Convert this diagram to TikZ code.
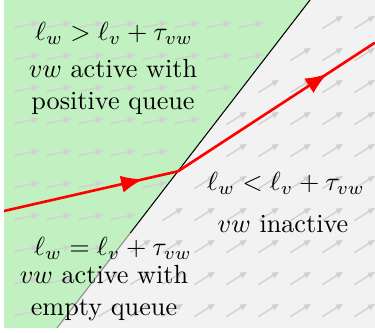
\documentclass[tikz,border=0pt]{standalone}
\usepackage{amsmath, amssymb}
\usetikzlibrary{arrows.meta, decorations.markings}
\definecolor{activegreen}{RGB}{193,240,193}
\definecolor{inactivegray}{RGB}{242,242,242}
\definecolor{fieldgray}{RGB}{208,208,208}

\begin{document}
\begin{tikzpicture}[
  x=0.3817pt, y=-0.3817pt,
  fieldarr/.style={-{Latex[length=2.9pt, width=2.6pt]}, fieldgray, line width=0.5pt},
  flow/.style={red, line width=1pt, postaction={decorate},
               decoration={markings, mark=at position #1 with
                 {\arrow{Latex[length=8.4pt, width=6.6pt]}}}},
  lbl/.style={font=\normalsize, align=center, inner sep=0pt},
]
  % frame and boundary points
  \coordinate (nw) at (4,0);
  \coordinate (se) at (375,328);
  \coordinate (sw) at (4,328);
  \coordinate (top) at (310,0);
  \coordinate (bot) at (57,328);
  \coordinate (kink) at (178,171.3);
  \coordinate (fade) at (130.3,233);
  \useasboundingbox (0,0) rectangle (375,332);

  % regions
  \fill[inactivegray] (nw) rectangle (se);
  \fill[activegreen] (nw) -- (top) -- (bot) -- (sw) -- cycle;

  \begin{scope}
    \clip (nw) rectangle (se);
    % field in the active region
    \foreach \i in {0,...,8} {
      \foreach \j in {0,...,9} {
        \pgfmathsetmacro{\cx}{27+32*\i}
        \pgfmathsetmacro{\cy}{25+32*\j}
        \pgfmathtruncatemacro{\ok}{(\cx+12.5) < (310-0.7713*(\cy-2.5)) ? 1 : 0}
        \ifnum\ok=1
          \draw[fieldarr] (\cx-12.5,\cy+2.5) -- (\cx+12.5,\cy-2.5);
        \fi
      }
    }
    % field in the inactive region
    \foreach \i in {1,...,11} {
      \foreach \j in {0,...,9} {
        \pgfmathsetmacro{\cx}{13+32*\i}
        \pgfmathsetmacro{\cy}{22+32*\j}
        \pgfmathtruncatemacro{\ok}{(\cx-10.5) > (316-0.7713*(\cy+6.5)) ? 1 : 0}
        \ifnum\ok=1
          \draw[fieldarr] (\cx-10.5,\cy+6.5) -- (\cx+10.5,\cy-6.5);
        \fi
      }
    }

    % boundary
    \draw[black, line width=0.4pt] (top) -- (fade);
    \draw[black!45, line width=0.4pt] (fade) -- (bot);

    % trajectory
    \coordinate (in) at (4,211);
    \coordinate (out) at (375,42.6);
    \draw[flow=0.8] (in) -- (kink);
    \draw[flow=0.76] (kink) -- (out);
  \end{scope}

  % labels
  \node[lbl] (posqcond) at (114,33) {$\ell_w > \ell_v + \tau_{vw}$};
  \node[lbl] (posqtext) at (113,87) {$vw$ active with\\positive queue};
  \node[lbl] (inactcond) at (286,183) {$\ell_w < \ell_v + \tau_{vw}$};
  \node[lbl] (inacttext) at (283,224) {$vw$ inactive};
  \node[lbl] (emptyqcond) at (113,248) {$\ell_w = \ell_v + \tau_{vw}$};
  \node[lbl] (emptyqtext) at (104,293) {$vw$ active with\\empty queue};
\end{tikzpicture}
\end{document}
